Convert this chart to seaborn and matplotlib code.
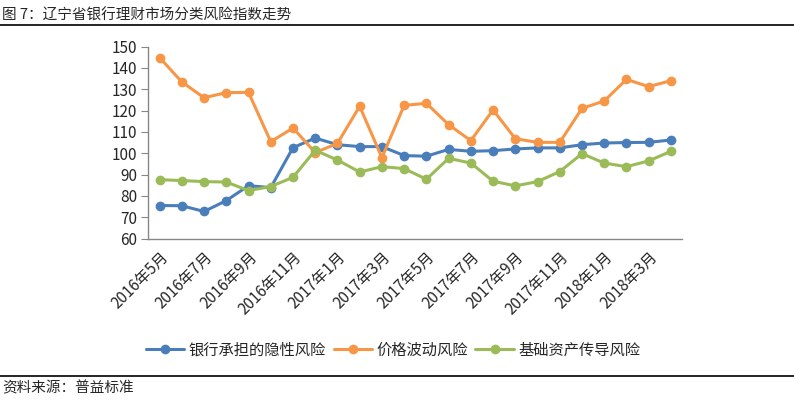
import pandas as pd
import numpy as np
import seaborn as sns
import matplotlib.pyplot as plt
from matplotlib.lines import Line2D

# Monthly index values, 2016-05 .. 2018-04
months = [f'2016年{m}月' for m in range(5, 13)] + [f'2017年{m}月' for m in range(1, 13)] + [f'2018年{m}月' for m in range(1, 5)]
implicit_risk = [75.5, 75.4, 72.7, 77.8, 84.8, 83.9, 102.6, 107.1, 104.0, 103.1, 103.1, 98.9,
                 98.6, 101.8, 100.9, 101.2, 102.0, 102.5, 102.5, 104.0, 104.8, 105.0, 105.1, 106.2]
price_risk = [144.8, 133.4, 126.0, 128.4, 128.5, 105.4, 111.8, 100.3, 104.6, 122.0, 97.9, 122.4,
              123.4, 113.4, 105.9, 120.3, 106.8, 105.1, 105.1, 121.0, 124.5, 134.6, 131.2, 134.0]
asset_risk = [87.6, 87.2, 86.7, 86.5, 82.5, 84.4, 88.7, 101.4, 96.8, 91.2, 93.7, 92.8,
              87.8, 97.6, 95.4, 86.9, 84.7, 86.7, 91.4, 99.8, 95.4, 93.7, 96.4, 100.9]
series_names = ['银行承担的隐性风险', '价格波动风险', '基础资产传导风险']
colors = ['#4A7EBB', '#F79646', '#9BBB59']

df = pd.DataFrame({'idx': np.arange(len(months)),
                   series_names[0]: implicit_risk,
                   series_names[1]: price_risk,
                   series_names[2]: asset_risk})
data_long = df.melt(id_vars='idx', var_name='series', value_name='value')

sns.set_style('white')
plt.rcParams['font.family'] = ['Noto Sans CJK SC', 'DejaVu Sans']

fig = plt.figure(figsize=(7.94, 4.01), dpi=100)
ax = fig.add_axes([0.187, 0.405, 0.672, 0.479])

sns.lineplot(data=data_long, x='idx', y='value', hue='series', palette=colors,
             marker='o', markersize=7, markeredgewidth=0, linewidth=2.2,
             legend=False, ax=ax)

ax.set_xlim(-0.5, len(months) - 0.5)
ax.set_ylim(60, 150)
ax.set_yticks(range(60, 151, 10))
ax.set_xticks(np.arange(0, len(months), 2))
ax.set_xticklabels(months[::2], rotation=45, ha='right', rotation_mode='anchor', fontsize=11)
ax.set_xticks(np.arange(-0.5, len(months), 2), minor=True)
ax.tick_params(axis='x', which='major', length=0, pad=7)
ax.tick_params(axis='x', which='minor', length=5, color='#868686', width=1)
ax.tick_params(axis='y', length=5, color='#868686', labelsize=11, direction='out', left=True, pad=3)
ax.set_xlabel('')
ax.set_ylabel('')
for s in ['top', 'right']:
    ax.spines[s].set_visible(False)
for s in ['left', 'bottom']:
    ax.spines[s].set_color('#868686')
    ax.spines[s].set_linewidth(1)

handles = [Line2D([0], [0], color=c, lw=2.2, marker='o', markersize=7, markeredgewidth=0) for c in colors]
fig.legend(handles, series_names, loc='center', bbox_to_anchor=(0.495, 0.127), ncol=3,
           frameon=False, fontsize=11, handlelength=2.5, columnspacing=0.5, handletextpad=0.3)

# header and source lines
fig.text(0.003, 0.962, '图 7：辽宁省银行理财市场分类风险指数走势', fontsize=10.5, va='center')
fig.add_artist(Line2D([0, 1], [0.937, 0.937], color='black', lw=1.2, transform=fig.transFigure))
fig.add_artist(Line2D([0, 1], [0.062, 0.062], color='black', lw=1.2, transform=fig.transFigure))
fig.text(0.003, 0.032, '资料来源：普益标准', fontsize=10.5, va='center')

fig.savefig('out.png', dpi=100)
